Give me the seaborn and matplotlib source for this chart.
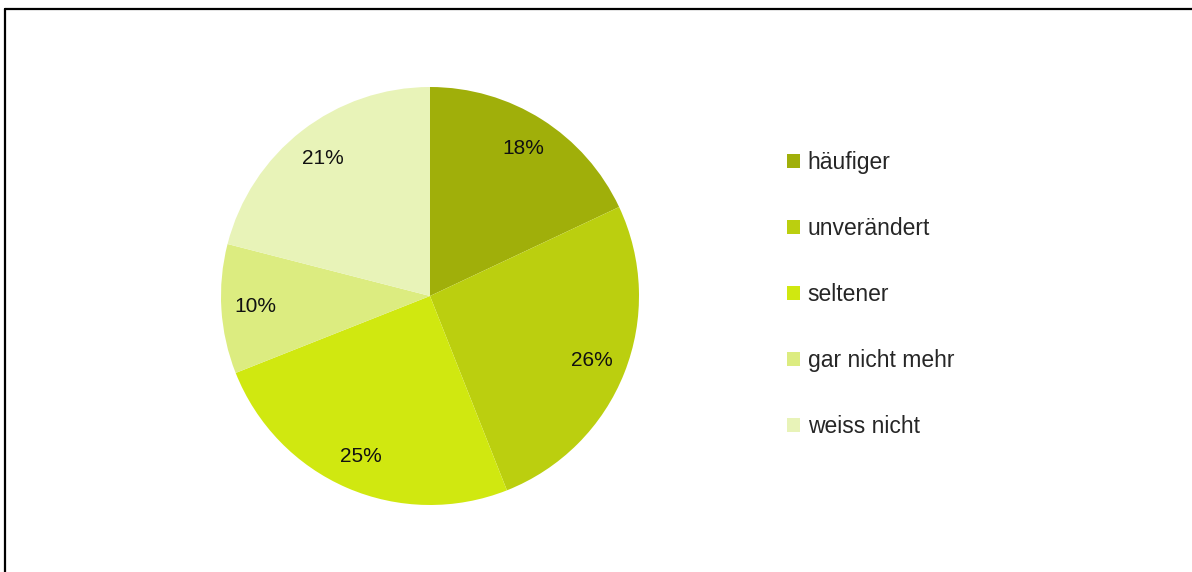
import matplotlib
matplotlib.use("Agg")
import matplotlib.pyplot as plt
from matplotlib.lines import Line2D
from matplotlib.patches import Patch
import seaborn as sns

categories = ["häufiger", "unverändert", "seltener", "gar nicht mehr", "weiss nicht"]
shares = [18, 26, 25, 10, 21]
colors = ["#A0AF0A", "#BBCF0F", "#D0E810", "#DCEC80", "#E8F3B8"]

sns.set_theme(style="white")
plt.rcParams["font.family"] = ["Liberation Sans", "DejaVu Sans"]

W, H = 1192, 572
fig = plt.figure(figsize=(W / 100, H / 100), dpi=100)

# pie centred at (430, 296) px with radius 209 px
cx, cy, r = 430, 296, 209
ax = fig.add_axes([(cx - r) / W, (H - cy - r) / H, 2 * r / W, 2 * r / H])
wedges, texts, autotexts = ax.pie(
    shares,
    colors=colors,
    startangle=90,
    counterclock=False,
    autopct=lambda p: f"{p:.0f}%",
    pctdistance=0.835,
    wedgeprops=dict(linewidth=0),
    textprops=dict(fontsize=15, color="#111111"),
)
ax.set_xlim(-1, 1)
ax.set_ylim(-1, 1)
ax.set_aspect("equal")
ax.axis("off")

handles = [Patch(facecolor=c, edgecolor="none") for c in colors]
fig.legend(
    handles, categories,
    loc="upper left",
    bbox_to_anchor=(787 / W, 1 - 151 / H),
    frameon=False,
    fontsize=16.5,
    handlelength=0.55,
    handleheight=0.55,
    handletextpad=0.35,
    labelspacing=1.88,
    borderaxespad=0,
    borderpad=0,
)

# chart frame: top and left border
fig.add_artist(Line2D([4.5 / W, 1], [1 - 8.5 / H, 1 - 8.5 / H], color="black", lw=1.6, transform=fig.transFigure))
fig.add_artist(Line2D([4.5 / W, 4.5 / W], [0, 1 - 8.5 / H], color="black", lw=1.6, transform=fig.transFigure))

fig.savefig("out.png", dpi=100, facecolor="white")
